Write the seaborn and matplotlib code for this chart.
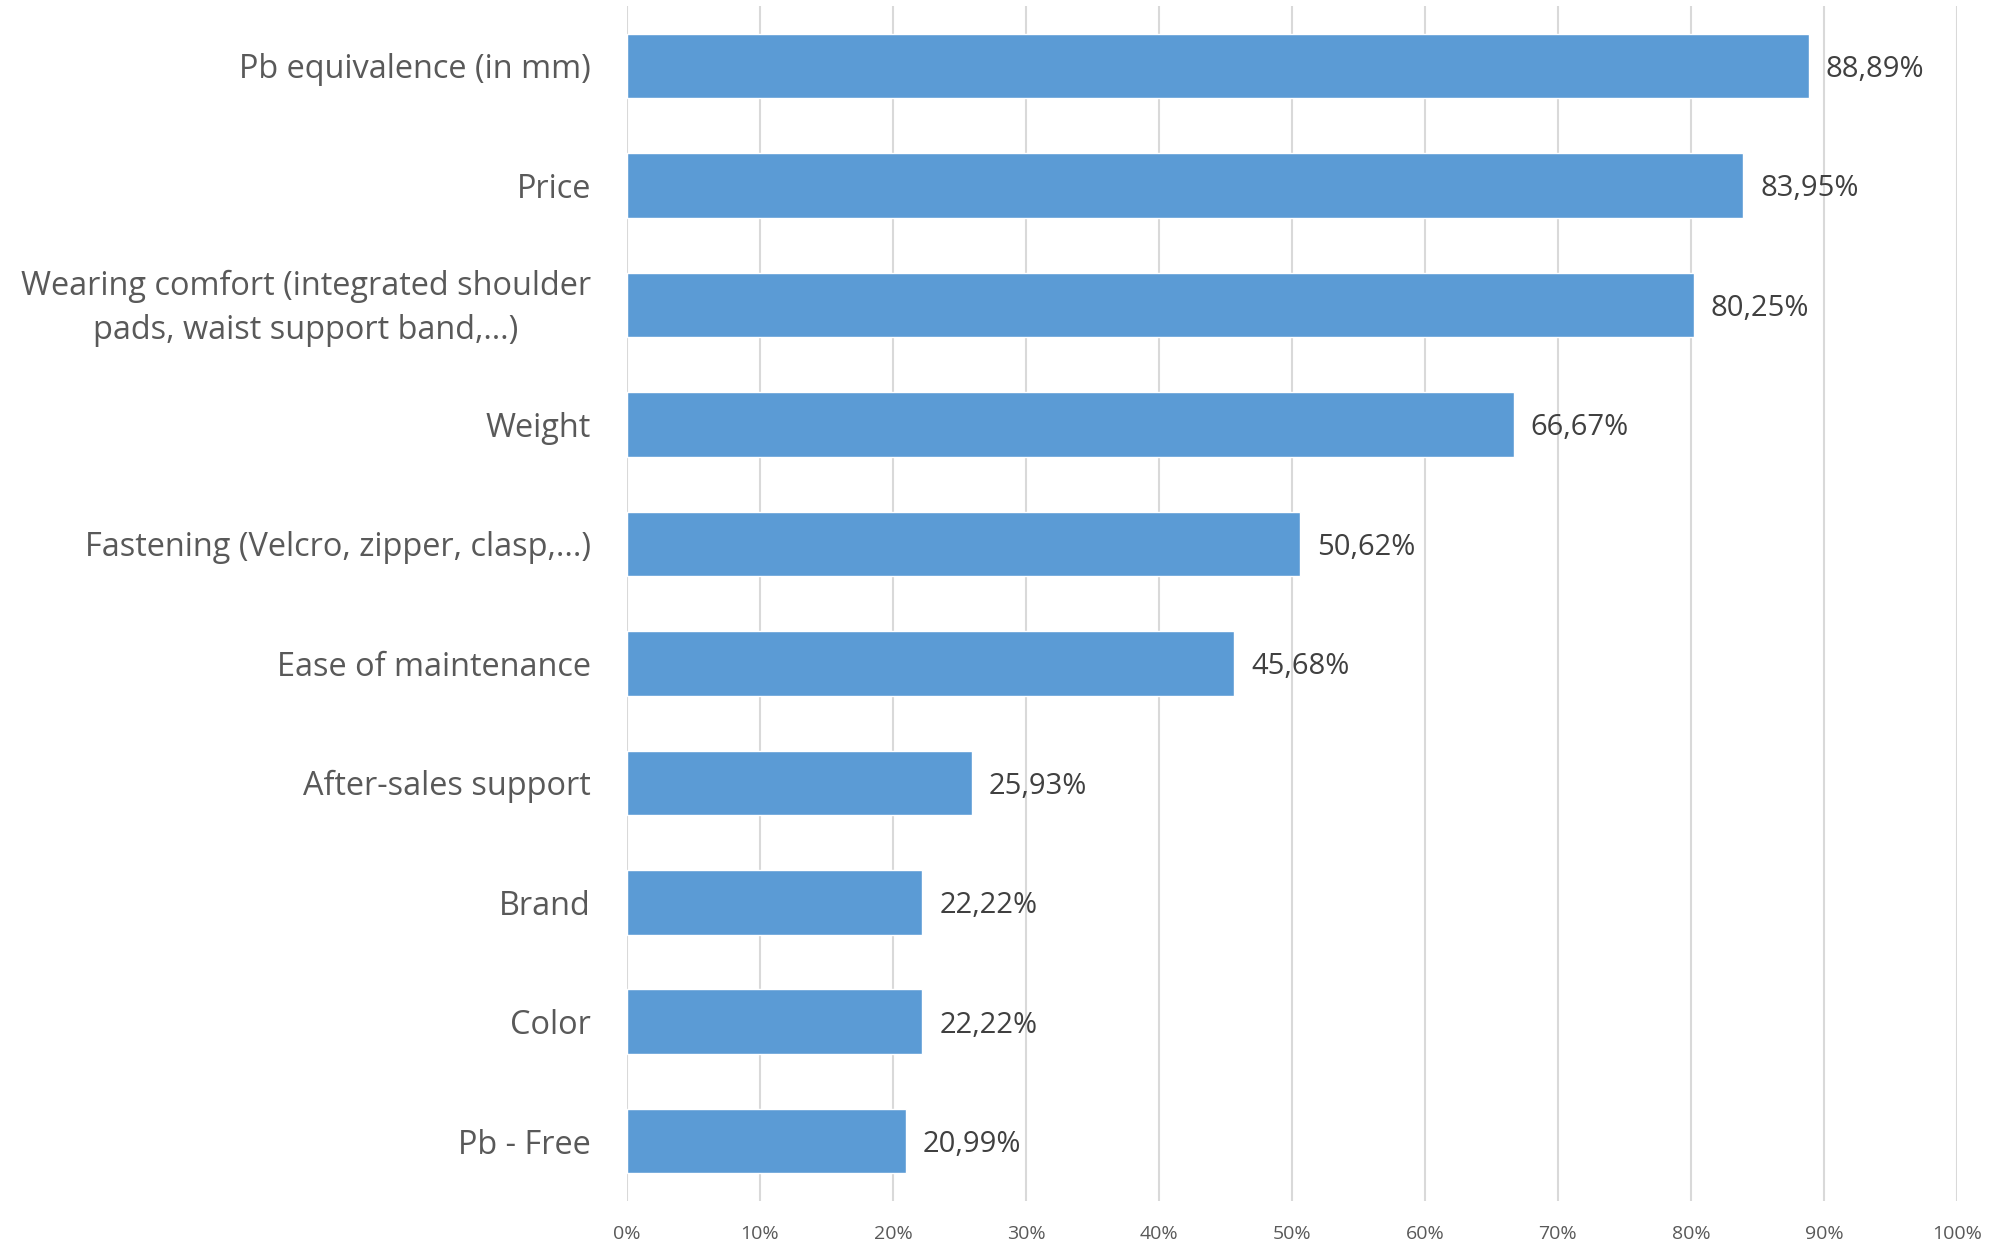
import matplotlib
matplotlib.use("Agg")
import matplotlib.pyplot as plt
import matplotlib.transforms as mtransforms
import seaborn as sns
import pandas as pd

categories = [
    "Pb equivalence (in mm)",
    "Price",
    "Wearing comfort (integrated shoulder\npads, waist support band,…)",
    "Weight",
    "Fastening (Velcro, zipper, clasp,...)",
    "Ease of maintenance",
    "After-sales support",
    "Brand",
    "Color",
    "Pb - Free",
]
values = [88.89, 83.95, 80.25, 66.67, 50.62, 45.68, 25.93, 22.22, 22.22, 20.99]
value_labels = ["88,89%", "83,95%", "80,25%", "66,67%", "50,62%", "45,68%",
                "25,93%", "22,22%", "22,22%", "20,99%"]
x_ticks = [0, 10, 20, 30, 40, 50, 60, 70, 80, 90, 100]
x_tick_labels = ["0%", "10%", "20%", "30%", "40%", "50%", "60%", "70%", "80%", "90%", "100%"]

sns.set_theme(style="white")
plt.rcParams["font.family"] = ["Open Sans", "DejaVu Sans"]

df = pd.DataFrame({"category": categories, "value": values})

fig = plt.figure(figsize=(20.05, 12.44), dpi=100)
ax = fig.add_axes([0.3127, 0.0346, 0.976 - 0.3127, 0.995 - 0.0346])

sns.barplot(data=df, x="value", y="category", color="#5B9BD5", width=0.54,
            saturation=1, ax=ax, zorder=3)

ax.set_xlim(0, 100)
ax.set_xticks(x_ticks)
ax.set_xticklabels(x_tick_labels)
ax.grid(axis="x", color="#D9D9D9", linewidth=1.5, zorder=0)
ax.set_axisbelow(True)
for s in ax.spines.values():
    s.set_visible(False)
ax.set_xlabel("")
ax.set_ylabel("")

ax.tick_params(axis="x", length=0, pad=17, labelsize=14, labelcolor="#595959")
ax.tick_params(axis="y", length=0, pad=26, labelsize=23.4, labelcolor="#595959")
shift_up = mtransforms.ScaledTranslation(0, 0.06, fig.dpi_scale_trans)
for lbl in ax.get_yticklabels():
    lbl.set_multialignment("center")
    lbl.set_linespacing(1.43)
    if "\n" in lbl.get_text():
        lbl.set_transform(lbl.get_transform() + shift_up)

texts = ax.bar_label(ax.containers[0], labels=value_labels, padding=12,
                     fontsize=21, color="#404040")
for t in texts:
    t.set_va("center_baseline")

fig.savefig("out.png", dpi=100)
